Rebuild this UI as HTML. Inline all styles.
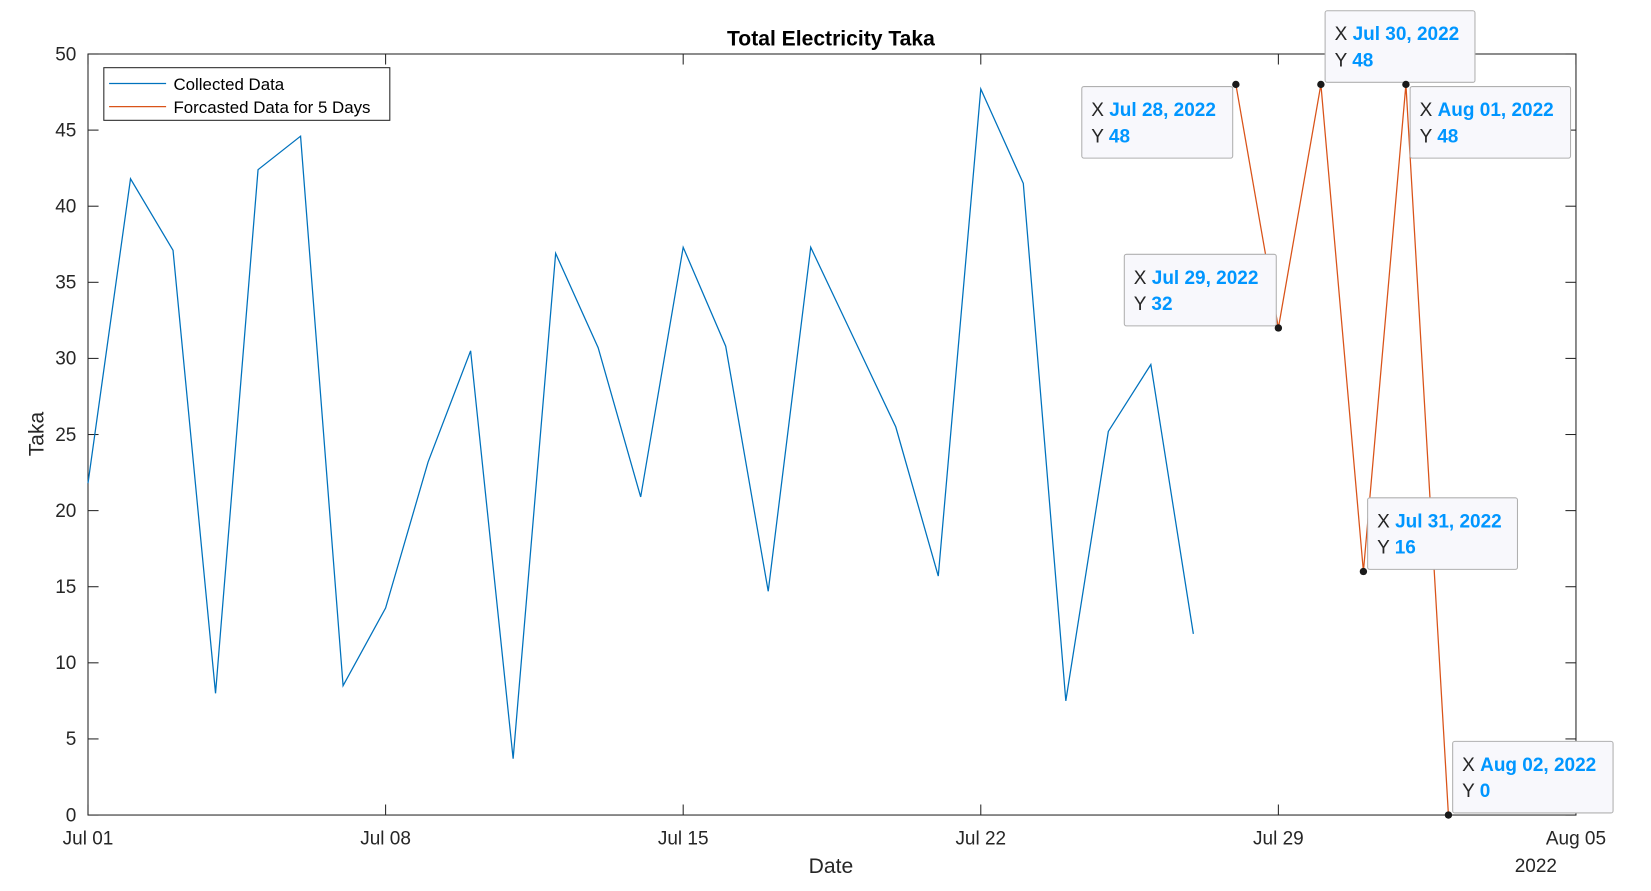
<!DOCTYPE html>
<html><head><meta charset="utf-8"><style>
body{margin:0;background:#fff;}
svg{display:block;font-family:"Liberation Sans",Arial,sans-serif;}
</style></head><body>
<svg width="1651" height="891"><g id="chart" transform="translate(88,54) scale(1.0553,1.0526) translate(-86,-52)"></g></svg>
<script>
const collectedValues=[21.8,41.8,37.1,8.0,42.4,44.6,8.5,13.6,23.2,30.5,3.7,36.9,30.7,20.9,37.3,30.8,14.7,37.3,31.4,25.5,15.7,47.7,41.5,7.5,25.2,29.6,11.9];
const forecastDays=[27,28,29,30,31,32];
const forecastValues=[48,32,48,16,48,0];
const forecastLabels=["Jul 28, 2022","Jul 29, 2022","Jul 30, 2022","Jul 31, 2022","Aug 01, 2022","Aug 02, 2022"];
const xTickDays=[0,7,14,21,28,35];
const xTickLabels=["Jul 01","Jul 08","Jul 15","Jul 22","Jul 29","Aug 05"];
const yTicks=[0,5,10,15,20,25,30,35,40,45,50];

const L=86,R=1496,T=52,B=775;
const sx=d=>L+(d/35)*(R-L);
const sy=v=>B-(v/50)*(B-T);
const svg=document.getElementById('chart');
const NS='http://www.w3.org/2000/svg';
function mk(tag,attrs,parent){const e=document.createElementNS(NS,tag);for(const k in attrs)e.setAttribute(k,attrs[k]);(parent||svg).appendChild(e);return e;}

let g=mk('g',{});


mk('rect',{x:L,y:T,width:R-L,height:B-T,fill:'#fff',stroke:'#262626','stroke-width':1},g);
yTicks.forEach(v=>{
  const y=sy(v);
  mk('line',{x1:L,x2:L+10,y1:y,y2:y,stroke:'#262626'},g);
  mk('line',{x1:R,x2:R-10,y1:y,y2:y,stroke:'#262626'},g);
  const t=mk('text',{x:L-11,y:y+6,'text-anchor':'end','font-size':18,fill:'#262626'},g);
  t.textContent=v;
  
  
});
xTickDays.forEach((d,i)=>{
  const x=sx(d);
  mk('line',{x1:x,x2:x,y1:B,y2:B-10,stroke:'#262626'},g);
  mk('line',{x1:x,x2:x,y1:T,y2:T+10,stroke:'#262626'},g);
  const t=mk('text',{x:x,y:B+28,'text-anchor':'middle','font-size':18,fill:'#262626'},g);
  t.textContent=xTickLabels[i];
  
  
});
let t=mk('text',{x:1458,y:829,'text-anchor':'middle','font-size':18,fill:'#262626'});
t.textContent='2022';


t=mk('text',{x:790,y:830,'text-anchor':'middle','font-size':20,fill:'#262626'});
t.textContent='Date';


t=mk('text',{x:44,y:413,'text-anchor':'middle','font-size':20,fill:'#262626',transform:'rotate(-90 44 413)'});
t.textContent='Taka';


t=mk('text',{x:790,y:44,'text-anchor':'middle','font-size':20,'font-weight':'bold',fill:'#000'});
t.textContent='Total Electricity Taka';



let p=mk('polyline',{points:collectedValues.map((v,i)=>sx(i)+','+sy(v)).join(' '),fill:'none',stroke:'#0072BD','stroke-width':1.2});


p=mk('polyline',{points:forecastValues.map((v,i)=>sx(forecastDays[i])+','+sy(v)).join(' '),fill:'none',stroke:'#D95319','stroke-width':1.2});



const tipPos=[[-146,2,143],[-146,-70,144],[4,-70,142],[4,-70,142],[4,2,152],[4,-70,152]];
forecastValues.forEach((v,i)=>{
  const x=sx(forecastDays[i]),y=sy(v);
  const tg=mk('g',{});
  
  
  const [dx,dy,w]=tipPos[i];
  const bx=x+dx,by=y+dy;
  mk('rect',{x:bx,y:by,width:w,height:68,rx:2,fill:'#f8f8fc',stroke:'#b0b0b0'},tg);
  let a=mk('text',{x:bx+9,y:by+28,'font-size':18,fill:'#262626'},tg);
  a.innerHTML='X <tspan fill="#0096ff" font-weight="bold">'+forecastLabels[i]+'</tspan>';
  a=mk('text',{x:bx+9,y:by+53,'font-size':18,fill:'#262626'},tg);
  a.innerHTML='Y <tspan fill="#0096ff" font-weight="bold">'+v+'</tspan>';
  const c=mk('circle',{cx:x,cy:y,r:3.5,fill:'#1a1a1a'},tg);
  
  
});

const lg=mk('g',{});


mk('rect',{x:101,y:65,width:271,height:50,fill:'#fff',stroke:'#262626'},lg);
mk('line',{x1:106,x2:160,y1:80,y2:80,stroke:'#0072BD','stroke-width':1.2},lg);
mk('line',{x1:106,x2:160,y1:102,y2:102,stroke:'#D95319','stroke-width':1.2},lg);
t=mk('text',{x:167,y:86,'font-size':16,fill:'#000'},lg);t.textContent='Collected Data';


t=mk('text',{x:167,y:108,'font-size':16,fill:'#000'},lg);t.textContent='Forcasted Data for 5 Days';


</script>
</body></html>
